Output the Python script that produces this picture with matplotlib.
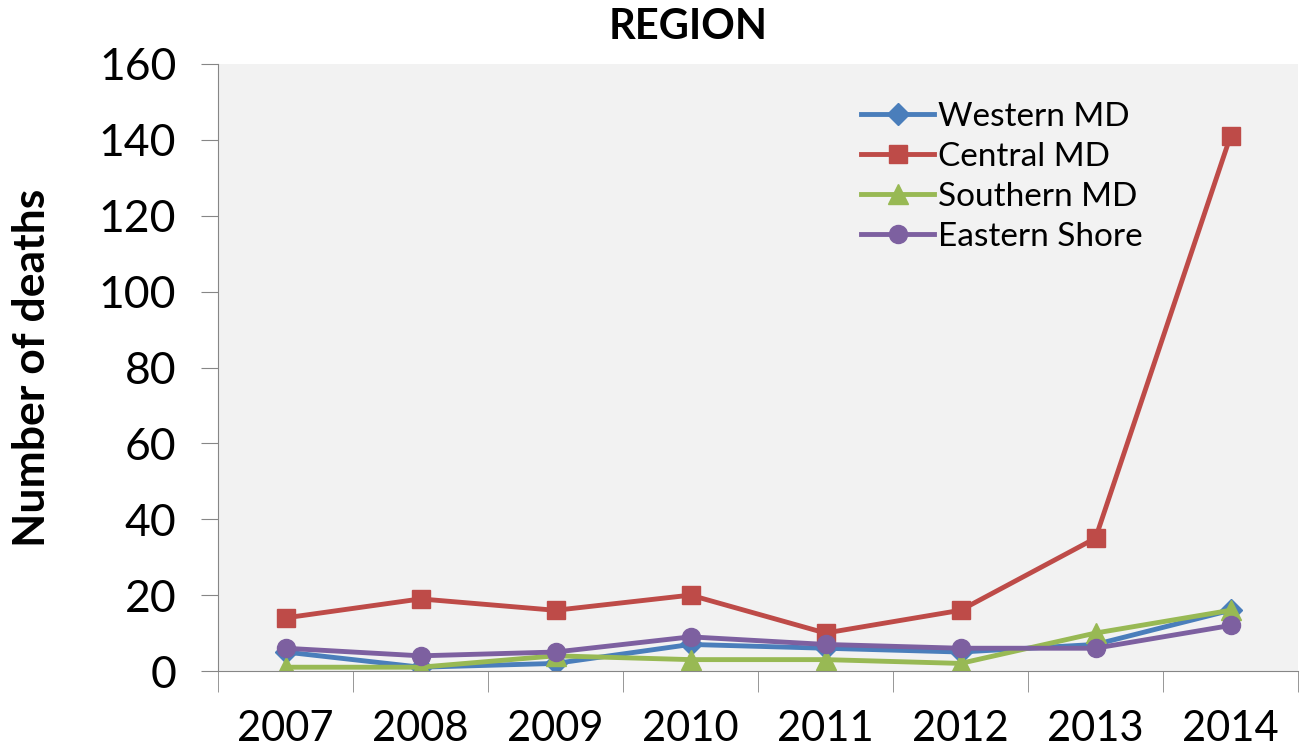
import numpy as np
import matplotlib.pyplot as plt

plt.rcParams['font.family'] = ['Lato', 'DejaVu Sans']

years = ['2007', '2008', '2009', '2010', '2011', '2012', '2013', '2014']
western = [5, 1, 2, 7, 6, 5, 7, 16]
central = [14, 19, 16, 20, 10, 16, 35, 141]
southern = [1, 1, 4, 3, 3, 2, 10, 16]
eastern = [6, 4, 5, 9, 7, 6, 6, 12]

fig = plt.figure(figsize=(13.06, 7.55), dpi=100)
ax = fig.add_axes([218 / 1306, 1 - 671 / 755, (1298 - 218) / 1306, (671 - 64) / 755])
ax.set_facecolor('#F2F2F2')

x = np.arange(len(years))
ax.plot(x, western, color='#4A7EBB', lw=3.5, marker='D', ms=11, label='Western MD')
ax.plot(x, central, color='#BE4B48', lw=3.5, marker='s', ms=13, label='Central MD')
ax.plot(x, southern, color='#98B954', lw=3.5, marker='^', ms=14, label='Southern MD')
ax.plot(x, eastern, color='#7D60A0', lw=3.5, marker='o', ms=13, label='Eastern Shore')

ax.set_xlim(-0.5, len(years) - 0.5)
ax.set_ylim(0, 160)
ax.set_yticks(range(0, 161, 20))
ax.tick_params(axis='y', labelsize=32, length=12, color='#868686', pad=18)

# category labels centred, tick marks between categories
ax.set_xticks(x)
ax.set_xticklabels(years, fontsize=30)
ax.tick_params(axis='x', which='major', length=0, pad=28)
ax.set_xticks(np.arange(-0.5, len(years)), minor=True)
ax.tick_params(axis='x', which='minor', length=15, color='#868686')

for s in ['top', 'right']:
    ax.spines[s].set_visible(False)
for s in ['left', 'bottom']:
    ax.spines[s].set_color('#868686')

ax.set_ylabel('Number of deaths', fontsize=32, fontweight='bold', labelpad=34)
# title is centred on the whole chart, not the plot area
ax.set_title('REGION', fontsize=30, fontweight='bold', pad=18, x=0.435)

ax.legend(loc='upper left', bbox_to_anchor=(0.583, 0.96), frameon=False,
          fontsize=24, handlelength=2.2, handletextpad=0.1, labelspacing=0.3,
          borderaxespad=0)

fig.savefig('out.png', dpi=100)
